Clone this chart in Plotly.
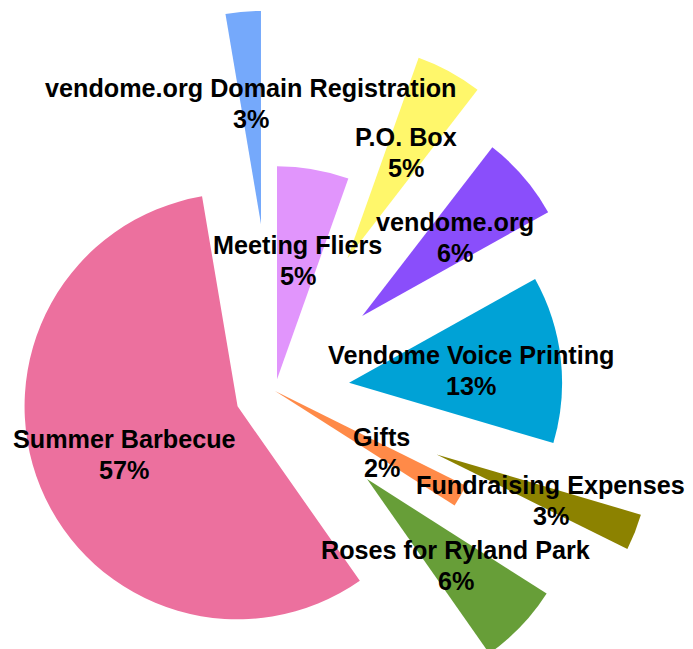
import math
import plotly.graph_objects as go

# ---- data ----
labels = [
    "Meeting Fliers",
    "P.O. Box",
    "vendome.org",
    "Vendome Voice Printing",
    "Fundraising Expenses",
    "Gifts",
    "Roses for Ryland Park",
    "Summer Barbecue",
    "vendome.org Domain Registration",
]
values = [163, 151, 193, 380, 83, 51, 187, 1712, 80]

# ---- style ----
colors = ["#E195FC", "#FFF76B", "#8A4EFB", "#00A2D6", "#8C8200",
          "#FF8A48", "#679E38", "#EC709E", "#75A9FB"]
# explode distance of each slice, as a fraction of the radius
explode = [0.056, 0.709, 0.54, 0.35, 0.815, 0.0, 0.598, 0.19, 0.787]

PAGE = 8                 # page body margin of the browser
W, H = 693, 700          # canvas (parts beyond the window are cut, like the reference)
R = 213                  # pie radius in px
CX, CY = 275 - PAGE, 391 - PAGE   # pie centre in canvas px
LABEL_R = 0.575          # label distance from slice apex, fraction of radius
LINE_GAP = 15.5          # half distance between the two label lines, px
LABEL_SHIFT = 1.5        # small downward nudge of labels, px
FONT = dict(family="Liberation Sans, Arial, Helvetica, sans-serif", size=25.2,
            color="black", weight="bold")

total = float(sum(values))
fig = go.Figure()
annotations = []
cum = 0.0
for i, (lab, val) in enumerate(zip(labels, values)):
    mid = 2 * math.pi * (cum + val / 2.0) / total
    cum += val
    ux, uy = math.sin(mid), -math.cos(mid)
    tx = CX + explode[i] * R * ux
    ty = CY + explode[i] * R * uy
    dom_x = [max(0.0, (tx - R) / W), min(1.0, (tx + R) / W)]
    dom_y = [max(0.0, 1 - (ty + R) / H), min(1.0, 1 - (ty - R) / H)]
    fig.add_trace(go.Pie(
        values=values,
        labels=labels,
        sort=False,
        direction="clockwise",
        rotation=0,
        marker=dict(colors=[colors[j] if j == i else "rgba(0,0,0,0)" for j in range(len(values))],
                    line=dict(width=0)),
        textinfo="none",
        hoverinfo="label+percent",
        showlegend=False,
        domain=dict(x=dom_x, y=dom_y),
    ))
    lx = tx + LABEL_R * R * ux
    ly = ty + LABEL_R * R * uy + LABEL_SHIFT
    pct = round(100 * val / total)
    for txt, dy in ((lab, -LINE_GAP), (f"{pct}%", LINE_GAP)):
        annotations.append(dict(
            x=lx / W, y=1 - (ly + dy) / H, xref="paper", yref="paper",
            xanchor="center", yanchor="middle", showarrow=False,
            text=txt, font=FONT, align="center",
        ))

fig.update_layout(
    width=W, height=H,
    margin=dict(l=0, r=0, t=0, b=0),
    paper_bgcolor="white", plot_bgcolor="white",
    annotations=annotations,
    showlegend=False,
)

fig.write_html("out.html")
